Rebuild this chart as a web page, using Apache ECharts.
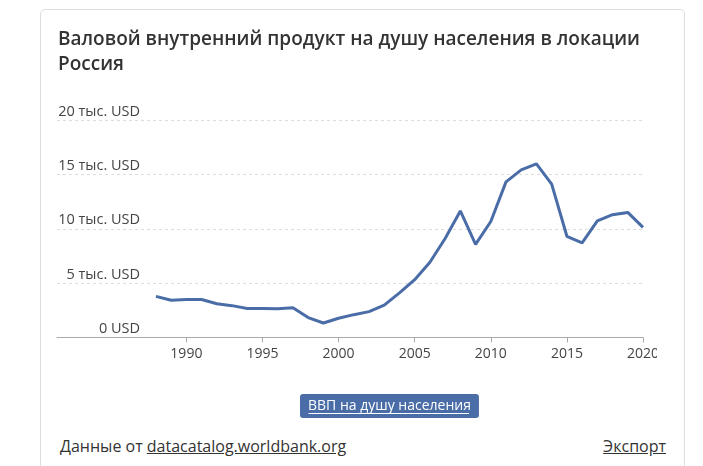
<!DOCTYPE html>
<html><head><meta charset="utf-8">
<script src="https://cdn.jsdelivr.net/npm/echarts@6/dist/echarts.min.js"></script>
<style>
html,body{margin:0;padding:0;background:#fff;width:703px;height:466px;overflow:hidden;font-family:"Open Sans",sans-serif;}
#card{position:absolute;left:40px;top:9px;width:645px;height:480px;border:1px solid #dedede;border-radius:5px;box-sizing:border-box;}
#chart{position:absolute;left:0;top:0;width:657px;height:430px;}
#foot{position:absolute;left:60px;top:435px;font-size:16px;color:#333;}
#foot a,#exp{color:#333;text-decoration:underline;}
#exp{position:absolute;right:37px;top:435px;font-size:16px;}
</style></head><body>
<div id="card"></div>
<div id="chart"></div>
<div id="foot">Данные от <a>datacatalog.worldbank.org</a></div>
<div id="exp">Экспорт</div>
<script>
var titleText = "Валовой внутренний продукт на душу населения в локации\nРоссия";
var seriesName = "ВВП на душу населения";
var years = [1988,1989,1990,1991,1992,1993,1994,1995,1996,1997,1998,1999,2000,2001,2002,2003,2004,2005,2006,2007,2008,2009,2010,2011,2012,2013,2014,2015,2016,2017,2018,2019,2020];
var gdpPerCapita = [3780,3430,3490,3490,3100,2930,2660,2670,2640,2740,1830,1330,1770,2100,2380,2980,4100,5320,6920,9100,11640,8560,10670,14310,15420,15970,14100,9310,8700,10720,11290,11500,10130];
var xTicks = [1990,1995,2000,2005,2010,2015,2020];
var yTicks = [0,5000,10000,15000,20000];

var chart = echarts.init(document.getElementById('chart'));
chart.setOption({
  animation:false,
  title:{text:titleText,left:58,top:27,padding:0,textStyle:{fontFamily:'Open Sans',fontSize:19,fontWeight:600,color:'#333',lineHeight:25}},
  legend:{data:[seriesName],left:300,top:394,icon:'none',itemWidth:0,itemHeight:0,
    backgroundColor:'#4a6da7',borderRadius:3,padding:[5,8,5,3],
    textStyle:{color:'#fff',fontFamily:'Open Sans',fontSize:14}},
  graphic:[{type:'line',z:100,zlevel:1,shape:{x1:308.5,y1:413.5,x2:469,y2:413.5},style:{stroke:'#fff',lineWidth:1}}],
  grid:{left:57,right:14,top:120,bottom:430-337.5,outerBoundsMode:'none',containLabel:false},
  xAxis:{type:'value',min:1981.5,max:2020,
    axisLine:{lineStyle:{color:'#aaa'}},
    axisTick:{show:true,length:5,customValues:xTicks,lineStyle:{color:'#aaa'}},
    axisLabel:{customValues:xTicks,color:'#444',fontFamily:'Open Sans',fontSize:14,margin:10,
      formatter:function(v){return String(v);}},
    splitLine:{show:false}},
  yAxis:{type:'value',min:0,max:20000,interval:5000,
    axisLine:{show:false},axisTick:{show:false},
    axisLabel:{inside:true,align:'right',verticalAlign:'bottom',margin:83,padding:[0,0,1,0],
      color:'#444',fontFamily:'Open Sans',fontSize:14.5,
      formatter:function(v){return v===0?'0 USD':(v/1000)+' тыс. USD';}},
    splitLine:{lineStyle:{color:'#ddd',type:[3,3]}}},
  series:[{name:seriesName,type:'line',showSymbol:false,smooth:false,
    data:years.map(function(y,i){return [y,gdpPerCapita[i]];}),
    lineStyle:{color:'#4a6da7',width:3},itemStyle:{color:'#4a6da7'}}]
});
</script>
</body></html>
